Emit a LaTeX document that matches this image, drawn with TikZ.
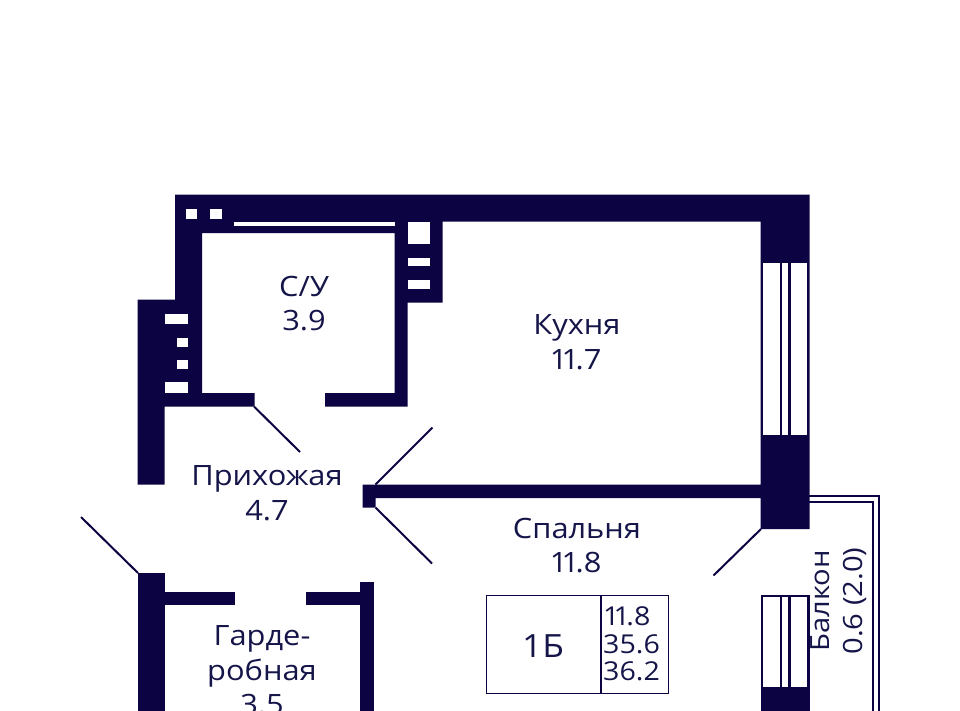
\documentclass[tikz,border=0pt]{standalone}
\usepackage{fontspec}
\setmainfont[FakeStretch=1.1]{Open Sans}
\definecolor{wallc}{HTML}{0C0442}
\definecolor{textc}{HTML}{15154A}
\newcommand{\nrw}{{\kern-2.5pt 1\kern-3.5pt}}
\tikzset{
  wall/.style={fill=wallc,draw=none},
  hole/.style={fill=white,draw=none},
  swing/.style={draw=wallc,line width=2pt},
  thin line/.style={draw=wallc,line width=1.5pt},
  roomlabel/.style={text=textc,font=\fontsize{28}{34.5}\selectfont,align=center,inner sep=0pt},
  arealabel/.style={text=textc,font=\fontsize{26}{27.5}\selectfont,align=left,inner sep=0pt,anchor=west}
}
\begin{document}
\begin{tikzpicture}[x=1pt,y=-1pt]
\useasboundingbox (0,0) rectangle (960,710);
\clip (0,0) rectangle (960,710);
\fill[white] (0,0) rectangle (960,710);
% balcony
\draw[thin line] (809,496) -- (879,496) -- (879,712);
\draw[thin line] (809,502) -- (873,502) -- (873,712);
% walls
\path[wall] (175,194.5) -- (809.5,194.5) -- (809.5,529) -- (760.5,529) -- (760.5,498) -- (375.5,498) -- (375.5,507.5) -- (362.5,507.5) -- (362.5,484.5) -- (760.5,484.5) -- (760.5,221.5) -- (442.5,221.5) -- (442.5,302.5) -- (407.5,302.5) -- (407.5,406.5) -- (325,406.5) -- (325,393) -- (394.5,393) -- (394.5,233) -- (202,233) -- (202,393) -- (254.5,393) -- (254.5,406.5) -- (164.5,406.5) -- (164.5,484.5) -- (137.5,484.5) -- (137.5,299.5) -- (175,299.5) -- cycle;
\path[wall] (137.5,573) rectangle (164.5,712);
\path[wall] (164,592) rectangle (234.5,605);
\path[wall] (305.5,592) rectangle (361,605);
\path[wall] (360,582) rectangle (373.5,712);
\path[wall] (760.5,595) rectangle (809.5,712);
% openings in the walls
\path[hole] (186,208.5) rectangle (197,219);
\path[hole] (210,208.5) rectangle (221.5,219);
\path[hole] (233.5,221.5) rectangle (394.5,226);
\path[hole] (407.5,221.5) rectangle (429.5,243.5);
\path[hole] (407.5,258) rectangle (429.5,266);
\path[hole] (407.5,280) rectangle (429.5,289);
\path[hole] (164.5,313.5) rectangle (188,323.5);
\path[hole] (176.5,337.5) rectangle (188,347);
\path[hole] (176.5,360) rectangle (188,369);
\path[hole] (164.5,382) rectangle (188,393);
\path[hole] (762.5,262.5) rectangle (779.5,434.5);
\path[hole] (782,262.5) rectangle (787.5,434.5);
\path[hole] (790.5,262.5) rectangle (807,434.5);
\path[hole] (762.5,597) rectangle (779.5,686.5);
\path[hole] (782,597) rectangle (787.5,686.5);
\path[hole] (790.5,597) rectangle (807,686.5);
% door leaves
\coordinate (bathhinge) at (254,406.5);
\coordinate (bathleaf) at (300,452);
\coordinate (kitchenhinge) at (375.5,484.5);
\coordinate (kitchenleaf) at (432.5,427.5);
\coordinate (bedhinge) at (375.5,507.5);
\coordinate (bedleaf) at (432,563.5);
\coordinate (entryhinge) at (138,573);
\coordinate (entryleaf) at (81,517);
\coordinate (balconyhinge) at (761,529);
\coordinate (balconyleaf) at (713.5,575.5);
\draw[swing] (bathhinge) -- (bathleaf);
\draw[swing] (kitchenhinge) -- (kitchenleaf);
\draw[swing] (bedhinge) -- (bedleaf);
\draw[swing] (entryhinge) -- (entryleaf);
\draw[swing] (balconyhinge) -- (balconyleaf);
% info box
\node[draw=wallc,line width=1.5pt,minimum width=114.5pt,minimum height=98pt,inner sep=0pt] (typebox) at (543.5,644.5) {};
\node[draw=wallc,line width=1.5pt,minimum width=68pt,minimum height=98pt,inner sep=0pt] (areabox) at (634.5,644.5) {};
\node[roomlabel,font=\fontsize{32}{34}\selectfont] (typetext) at (543,646) {1Б};
\node[arealabel] (a1) at (605.5,616.5) {\nrw\nrw.8};
\node[arealabel] (a2) at (603,644) {35.6};
\node[arealabel] (a3) at (603,671.5) {36.2};
% labels
\node[roomlabel] (su) at (304,303.5) {С/У\\3.9};
\node[roomlabel] (kitchen) at (577,342) {Кухня\\\nrw\nrw.7};
\node[roomlabel] (hall) at (267,493) {Прихожая\\4.7};
\node[roomlabel] (bedroom) at (577,545.5) {Спальня\\\nrw\nrw.8};
\node[roomlabel] (robe) at (262,670.5) {Гарде-\\робная\\3.5};
\node[roomlabel,rotate=90,font=\fontsize{26.5}{33}\selectfont] (balcony) at (839,601) {Балкон\\0.6 (2.0)};
\end{tikzpicture}
\end{document}
